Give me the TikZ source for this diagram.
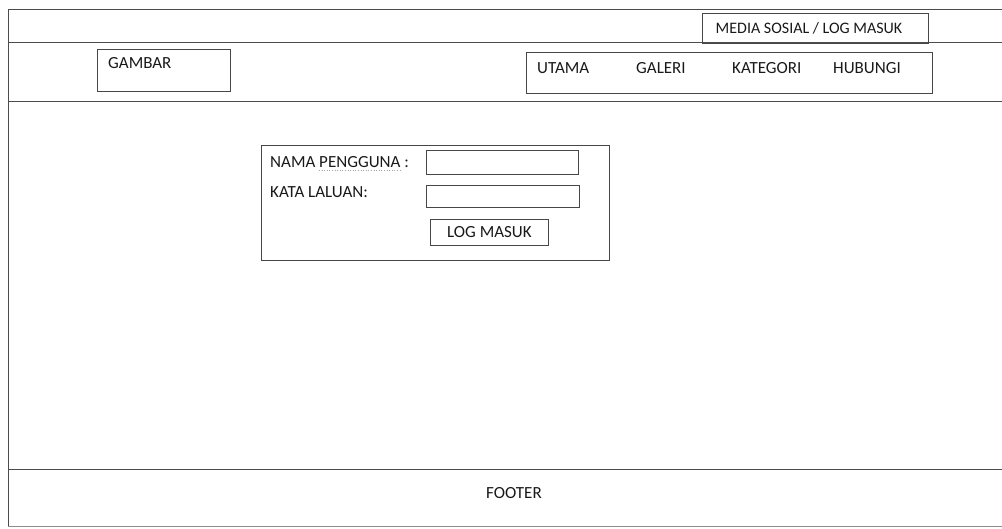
\documentclass[tikz,border=0pt]{standalone}
\usepackage{fontspec}
\setmainfont{Carlito}
\begin{document}
\begin{tikzpicture}[x=1pt,y=-1pt,
  frame/.style={draw=black!70,line width=0.9pt},
  box/.style={draw=black!72,line width=0.9pt,rectangle,inner sep=0pt,anchor=north west},
  lbl/.style={inner sep=0pt,text=black!90,font=\fontsize{17}{20}\selectfont},
  small/.style={lbl,font=\fontsize{16}{19}\selectfont},
  squiggle/.style={draw=black!35,line width=0.6pt,dotted}]
\useasboundingbox (0,0) rectangle (1002,528);

% page frame and section rules
\draw[frame] (1002,9) -- (8,9) -- (8,526);
\draw[frame] (8,42) -- (1002,42);
\draw[frame] (8,101) -- (1002,101);
\draw[frame] (8,469) -- (1002,469);
\draw[frame,draw=black!45] (8,526) -- (1002,526);

% header
\node[box,minimum width=226pt,minimum height=30pt] (social) at (702,13) {};
\node[small] (socialtxt) at (809,28) {MEDIA SOSIAL / LOG MASUK};

\node[box,minimum width=133pt,minimum height=42pt] (gambar) at (97,49) {};
\node[lbl,anchor=west] (gambartxt) at (108,63) {GAMBAR};

\node[box,minimum width=406pt,minimum height=41pt] (nav) at (526,52) {};
\node[lbl,anchor=west] (utama) at (537,68) {UTAMA};
\node[lbl,anchor=west] (galeri) at (636,68) {GALERI};
\node[lbl,anchor=west] (kategori) at (732,68) {KATEGORI};
\node[lbl,anchor=west] (hubungi) at (833,68) {HUBUNGI};

% login form
\node[box,minimum width=348pt,minimum height=115pt] (login) at (261,145) {};
\node[lbl,anchor=west] (user) at (270,162) {NAMA PENGGUNA :};
\node[box,minimum width=152pt,minimum height=24pt] (userin) at (426,150) {};
\node[lbl,anchor=west] (pass) at (270,192) {KATA LALUAN:};
\node[box,minimum width=153pt,minimum height=22pt] (passin) at (426,185) {};
\node[box,minimum width=118pt,minimum height=26pt] (btn) at (430,219) {};
\node[lbl] (btntxt) at (btn.center) {LOG MASUK};
\draw[squiggle] (319,170.5) -- (401,170.5);

% footer
\node[lbl] (footer) at (514,493) {FOOTER};
\end{tikzpicture}
\end{document}
